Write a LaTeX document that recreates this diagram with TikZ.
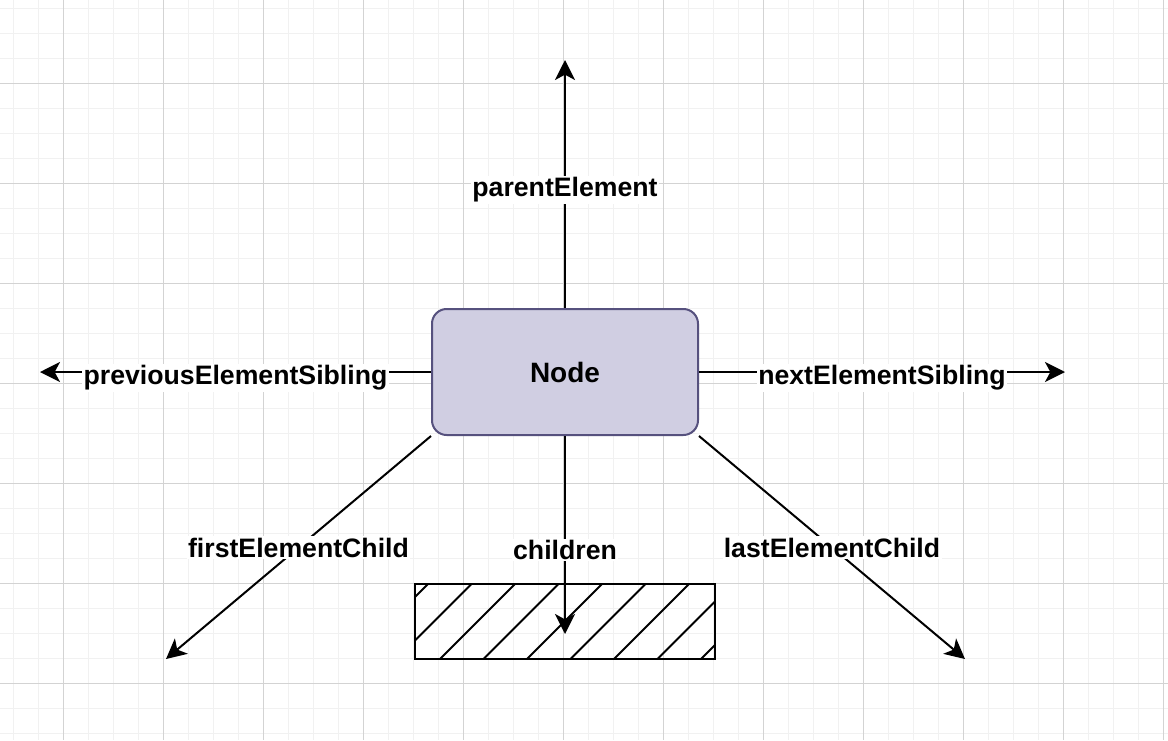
\documentclass[tikz,border=0pt]{standalone}
\usepackage{fontspec}
\setmainfont{Liberation Sans}
\usetikzlibrary{arrows.meta}
\definecolor{nodefill}{HTML}{D0CEE2}
\definecolor{nodedraw}{HTML}{56517E}
\definecolor{gridminor}{HTML}{F1F1F1}
\definecolor{gridmajor}{HTML}{D3D3D3}
\begin{document}
\begin{tikzpicture}[x=0.75pt,y=-0.75pt,
  edge/.style={line width=1.5pt, -{Stealth[length=15pt,width=15pt,inset=4pt]}},
  lbl/.style={fill=white, inner sep=1pt, font=\fontsize{20}{24}\selectfont\bfseries},
  lowlbl/.style={lbl, yshift=-4.5pt},
  mainbox/.style={draw=nodedraw, fill=nodefill, line width=1.5pt, rounded corners=11pt,
    minimum width=199.5pt, minimum height=94.5pt, inner sep=0pt,
    font=\fontsize{21}{25}\selectfont\bfseries},
  listbox/.style={draw=black, line width=1.5pt, minimum width=225pt, minimum height=56.25pt, inner sep=0pt},
  minorline/.style={draw=gridminor, line width=0.75pt},
  majorline/.style={draw=gridmajor, line width=0.75pt}]
\fill[white] (0,0) rectangle (1168,740);
\useasboundingbox (0,0) rectangle (1168,740);
% grid
\foreach \x in {13,38,...,1168} \draw[minorline] (\x,0) -- (\x,740);
\foreach \y in {8,33,...,740} \draw[minorline] (0,\y) -- (1168,\y);
\foreach \x in {63,163,...,1168} \draw[majorline] (\x,0) -- (\x,740);
\foreach \y in {83,183,...,740} \draw[majorline] (0,\y) -- (1168,\y);
% hatched list box
\begin{scope}
  \clip (415,584) rectangle (715,659);
  \foreach \c in {0,...,8}
    \draw[line width=1.5pt] ({1012+43.5*\c-700},700) -- ({1012+43.5*\c-550},550);
\end{scope}
\node[listbox] (kids) at (565,621.5) {};
% main node
\node[mainbox] (node) at (565,372) {Node};
% end points
\coordinate (up) at (565,60);
\coordinate (left) at (40,372);
\coordinate (right) at (1065,372);
\coordinate (first) at (166,659);
\coordinate (last) at (965,659);
\coordinate (down) at (565,634);
% edges
\draw[edge] (node.north) -- node[lowlbl] {parentElement} (up);
\draw[edge] (node.west) -- node[lowlbl] {previousElementSibling} (left);
\draw[edge] (node.east) -- node[lowlbl] {nextElementSibling} (right);
\draw[edge] (node.south west) -- node[lbl] {firstElementChild} (first);
\draw[edge] (node.south east) -- node[lbl] {lastElementChild} (last);
\draw[edge] (node.south) -- node[lbl, pos=0.575] {children} (down);
\end{tikzpicture}
\end{document}
